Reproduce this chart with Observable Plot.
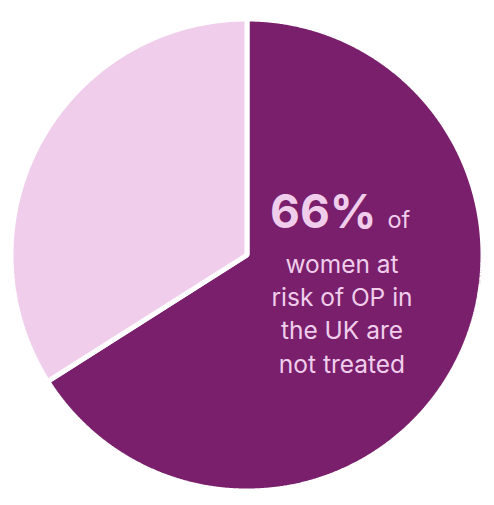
<!DOCTYPE html>
<html>
<head>
<meta charset="utf-8">
<script src="https://cdn.jsdelivr.net/npm/d3@7"></script>
<script src="https://cdn.jsdelivr.net/npm/@observablehq/plot@0.6"></script>
<style>
  html, body { margin: 0; padding: 0; background: #ffffff; }
</style>
</head>
<body>
<div id="chart"></div>
<script>
const categories = ["Not treated", "Treated"];
const values = [66, 34];
const colors = ["#791F6B", "#F0CEEB"];
const headline = "66%";
const headlineTail = "of";
const bodyLines = ["women at", "risk of OP in", "the UK are", "not treated"];

// Build pie slices (unit circle) from the data
const arcs = d3.pie().sort(null).value(d => d.value)(
  categories.map((c, i) => ({category: c, value: values[i]}))
);
function slicePolygon(a) {
  const pts = [[0, 0]];
  const n = Math.max(2, Math.ceil((a.endAngle - a.startAngle) / 0.005));
  for (let k = 0; k <= n; k++) {
    const t = a.startAngle + (a.endAngle - a.startAngle) * k / n;
    pts.push([Math.sin(t), Math.cos(t)]);
  }
  pts.push([0, 0]);
  return {type: "Feature", properties: {category: a.data.category}, geometry: {type: "Polygon", coordinates: [pts]}};
}
const slices = {type: "FeatureCollection", features: arcs.map(slicePolygon)};

const txt = "#F0CEEB";
const font = "Inter, 'Open Sans', sans-serif";

const chart = Plot.plot({
  width: 494,
  height: 505,
  margin: 0,
  style: {background: "#ffffff", fontFamily: font},
  projection: {
    type: "reflect-y",
    domain: slices,
    insetLeft: 10.5,
    insetRight: 11.5,
    insetTop: 18.5,
    insetBottom: 14.5
  },
  color: {domain: categories, range: colors},
  marks: [
    Plot.geo(slices, {fill: d => d.properties.category, stroke: "#ffffff", strokeWidth: 5, strokeLinejoin: "miter"}),
    Plot.text([headline], {x: 0.549, y: 0.1165, text: d => d, textAnchor: "end", lineAnchor: "bottom",
      fontSize: 46, fontWeight: 700, fill: txt, fontFamily: font}),
    Plot.text([headlineTail], {x: 0.595, y: 0.1165, text: d => d, textAnchor: "start", lineAnchor: "bottom",
      fontSize: 23.5, fill: txt, fontFamily: font}),
    Plot.text([bodyLines.join("\n")], {x: 0.4025, y: -0.498, text: d => d, textAnchor: "middle", lineAnchor: "bottom",
      fontSize: 24.5, lineHeight: 1.36, fill: txt, fontFamily: font})
  ]
});
document.getElementById("chart").appendChild(chart);
</script>
</body>
</html>
